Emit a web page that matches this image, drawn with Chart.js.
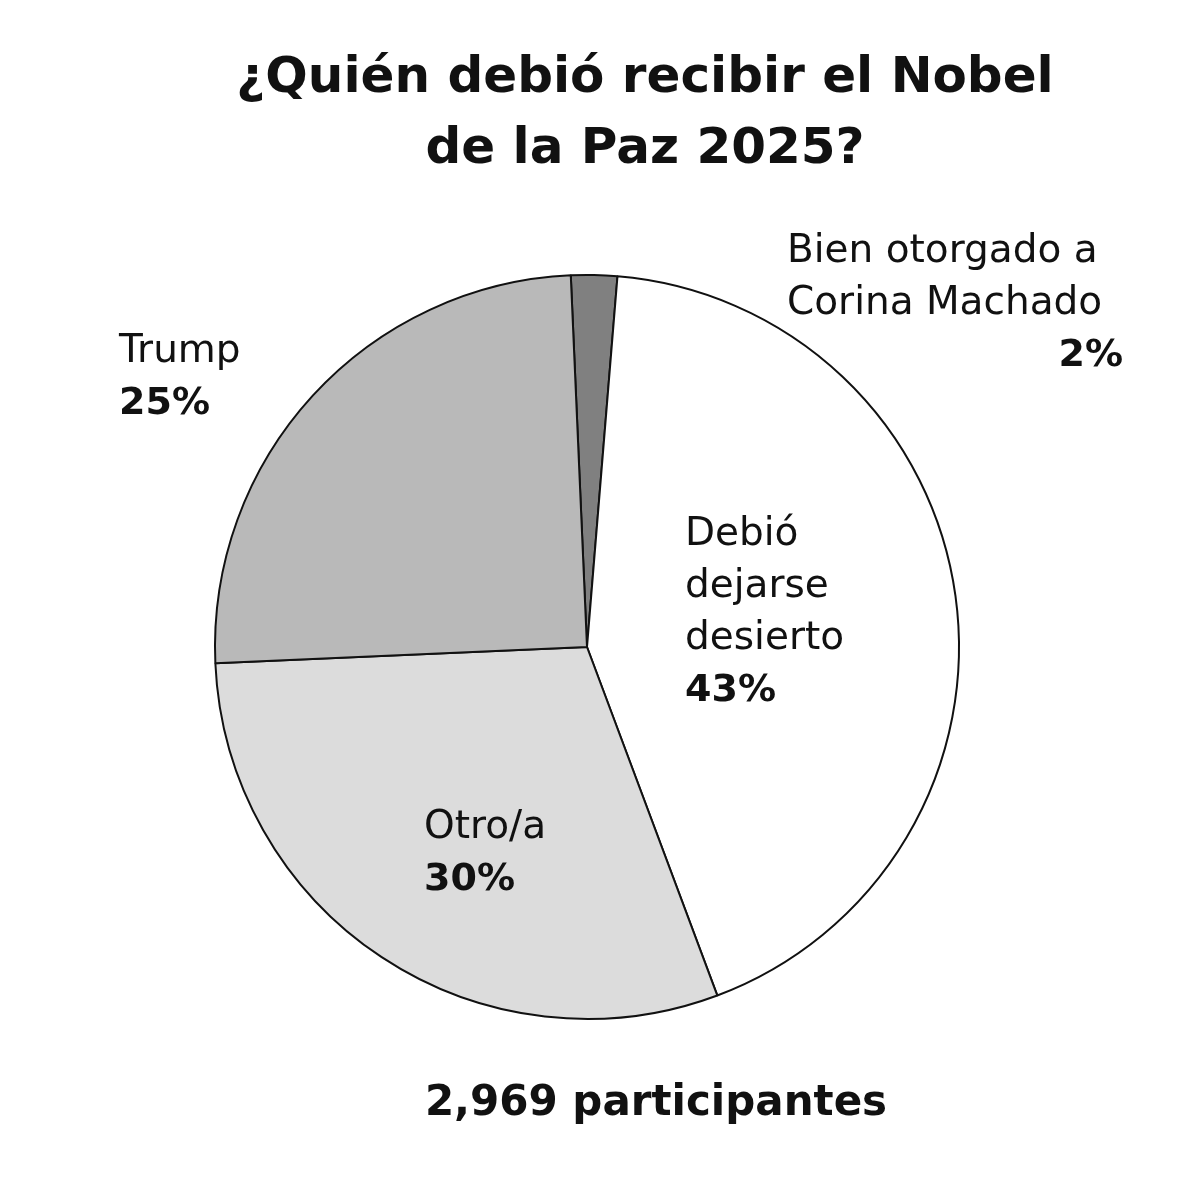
<!DOCTYPE html>
<html lang="es">
<head>
<meta charset="utf-8">
<title>Nobel de la Paz 2025</title>
<script src="https://cdn.jsdelivr.net/npm/chart.js@4.4.1/dist/chart.umd.min.js"></script>
<style>
    html, body { margin: 0; padding: 0; background: #fff; }
    #wrap { width: 1200px; height: 1193px; position: relative; }
</style>
</head>
<body>
<div id="wrap"><canvas id="pie-chart" width="1200" height="1193"></canvas></div>
<script>
// Encuesta: ¿Quién debió recibir el Nobel de la Paz 2025?
const titleLines = ['¿Quién debió recibir el Nobel', 'de la Paz 2025?'];
const categories = ['Bien otorgado a Corina Machado', 'Debió dejarse desierto', 'Otro/a', 'Trump'];
const values = [2, 43, 30, 25];
const sliceColors = ['#808080', '#ffffff', '#dcdcdc', '#b9b9b9'];
const labelLines = [
    ['Bien otorgado a', 'Corina Machado'],
    ['Debió', 'dejarse', 'desierto'],
    ['Otro/a'],
    ['Trump']
];
const footnote = '2,969 participantes';

const FONT = '"DejaVu Sans", sans-serif';

// where each label block starts (x, first baseline, alignment of the % line)
const labelSpots = [
    { x: 787, y: 262, pctAlign: 'right', pctX: 1123 },
    { x: 685, y: 545 },
    { x: 424, y: 838 },
    { x: 119, y: 362 }
];

const textPlugin = {
    id: 'pollText',
    afterDraw(chart) {
        const ctx = chart.ctx;
        ctx.save();
        ctx.fillStyle = '#111';
        ctx.textBaseline = 'alphabetic';

        // title
        ctx.textAlign = 'center';
        ctx.font = 'bold 50px ' + FONT;
        ctx.fillText(titleLines[0], 645, 92);
        ctx.fillText(titleLines[1], 645, 163);

        // slice labels
        const lineH = 52;
        labelLines.forEach((lines, i) => {
            const spot = labelSpots[i];
            ctx.textAlign = 'left';
            ctx.font = '39px ' + FONT;
            lines.forEach((t, j) => ctx.fillText(t, spot.x, spot.y + j * lineH));
            ctx.font = 'bold 38px ' + FONT;
            const pct = values[i] + '%';
            const py = spot.y + lines.length * lineH;
            if (spot.pctAlign === 'right') {
                ctx.textAlign = 'right';
                ctx.fillText(pct, spot.pctX, py);
            } else {
                ctx.fillText(pct, spot.x, py);
            }
        });

        // participants
        ctx.textAlign = 'center';
        ctx.font = 'bold 42px ' + FONT;
        ctx.fillText(footnote, 656, 1115);
        ctx.restore();
    }
};

new Chart(document.getElementById('pie-chart'), {
    type: 'pie',
    data: {
        labels: categories,
        datasets: [{
            data: values,
            backgroundColor: sliceColors,
            borderColor: '#111',
            borderWidth: 2
        }]
    },
    options: {
        responsive: false,
        animation: false,
        rotation: -2.5,
        layout: { padding: { left: 214, right: 240, top: 274, bottom: 173 } },
        plugins: {
            legend: { display: false },
            tooltip: { enabled: false }
        }
    },
    plugins: [textPlugin]
});
</script>
</body>
</html>
